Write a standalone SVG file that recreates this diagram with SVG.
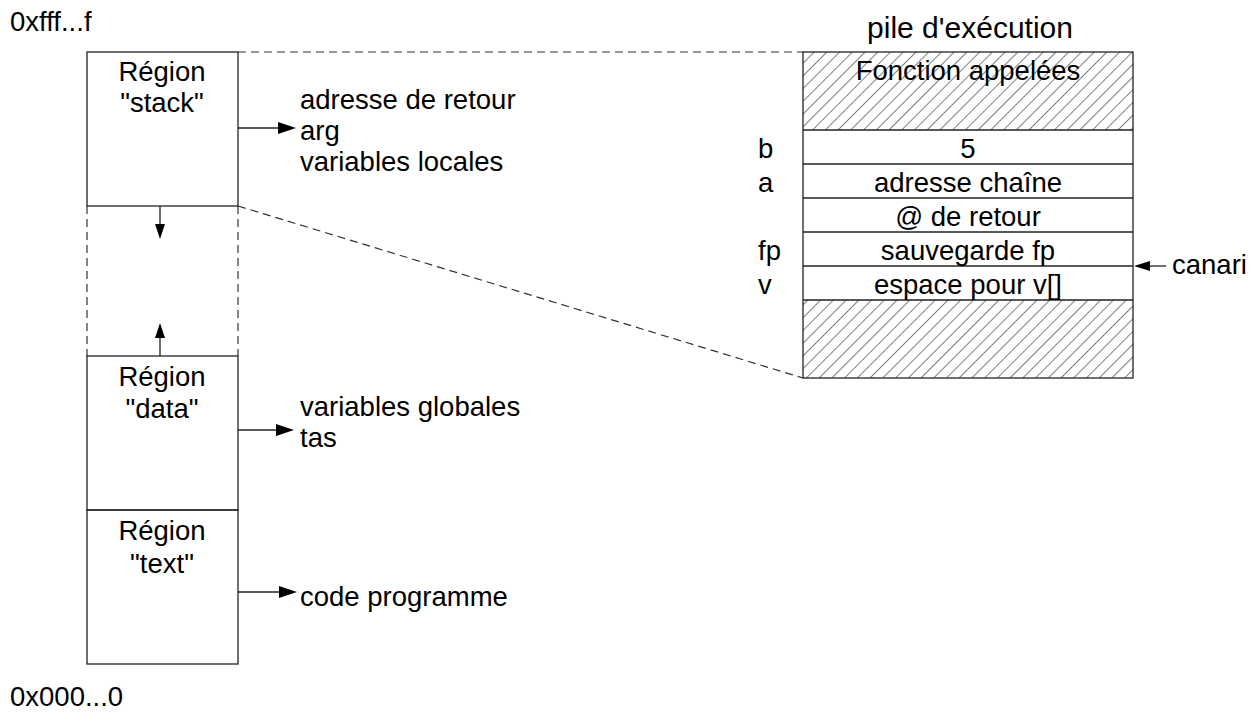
<svg xmlns="http://www.w3.org/2000/svg" width="1255" height="715" viewBox="0 0 1255 715">
  <style>
    text { font-family: "Liberation Sans", Arial, sans-serif; font-size: 27.5px; fill: #000; }
    .mid { text-anchor: middle; }
    .title { font-size: 30px; }
    .box { fill: none; stroke: #222; stroke-width: 1.3; }
    .dash { fill: none; stroke: #333; stroke-width: 1.2; stroke-dasharray: 8 5; }
    .conn { fill: none; stroke: #222; stroke-width: 1.3; }
    .head { fill: #000; }
  </style>
  <defs>
    <pattern id="hatch" patternUnits="userSpaceOnUse" width="9" height="9" patternTransform="rotate(45)">
      <line x1="0" y1="0" x2="0" y2="9" stroke="#000" stroke-width="1"/>
    </pattern>
  </defs>
  <rect width="1255" height="715" fill="#fff"/>

  <!-- address bounds -->
  <text x="10" y="31">0xfff...f</text>
  <text x="10" y="706">0x000...0</text>

  <!-- memory regions -->
  <g id="region-stack">
    <rect class="box" x="87" y="52" width="151" height="154"/>
    <text class="mid" x="162" y="81">Région</text>
    <text class="mid" x="162" y="112">"stack"</text>
  </g>
  <g id="region-gap">
    <line class="dash" x1="87" y1="206" x2="87" y2="356"/>
    <line class="dash" x1="238" y1="206" x2="238" y2="356"/>
  </g>
  <g id="region-data">
    <rect class="box" x="87" y="356" width="151" height="154"/>
    <text class="mid" x="162" y="386">Région</text>
    <text class="mid" x="162" y="418">"data"</text>
  </g>
  <g id="region-text">
    <rect class="box" x="87" y="510" width="151" height="154"/>
    <text class="mid" x="162" y="540">Région</text>
    <text class="mid" x="162" y="573">"text"</text>
  </g>

  <!-- region contents -->
  <g id="stack-contents">
    <text x="300" y="109">adresse de retour</text>
    <text x="300" y="140">arg</text>
    <text x="300" y="171">variables locales</text>
  </g>
  <g id="data-contents">
    <text x="300" y="416">variables globales</text>
    <text x="300" y="447">tas</text>
  </g>
  <g id="text-contents">
    <text x="300" y="606">code programme</text>
  </g>

  <!-- execution stack detail -->
  <g id="pile">
    <text class="mid title" x="970" y="38">pile d'exécution</text>
    <rect x="803" y="52" width="330" height="78" fill="url(#hatch)"/>
    <rect x="803" y="300" width="330" height="78" fill="url(#hatch)"/>
    <rect class="box" x="803" y="52" width="330" height="326"/>
    <line class="box" x1="803" y1="130" x2="1133" y2="130"/>
    <line class="box" x1="803" y1="164" x2="1133" y2="164"/>
    <line class="box" x1="803" y1="198" x2="1133" y2="198"/>
    <line class="box" x1="803" y1="232" x2="1133" y2="232"/>
    <line class="box" x1="803" y1="266" x2="1133" y2="266"/>
    <line class="box" x1="803" y1="300" x2="1133" y2="300"/>
    <text class="mid" x="968" y="80">Fonction appelées</text>
    <text class="mid" x="968" y="158">5</text>
    <text class="mid" x="968" y="192">adresse chaîne</text>
    <text class="mid" x="968" y="226">@ de retour</text>
    <text class="mid" x="968" y="260">sauvegarde fp</text>
    <text class="mid" x="968" y="294">espace pour v[]</text>
    <text x="758" y="158">b</text>
    <text x="758" y="192">a</text>
    <text x="758" y="260">fp</text>
    <text x="758" y="294">v</text>
    <text x="1172" y="274">canari</text>
  </g>

  <!-- connectors -->
  <g id="connectors">
    <line class="dash" x1="238" y1="52" x2="803" y2="52"/>
    <line class="dash" x1="238" y1="206" x2="803" y2="378"/>

    <line class="conn" x1="238" y1="128" x2="280" y2="128"/>
    <polygon class="head" points="296,128 278,122 278,134"/>

    <line class="conn" x1="238" y1="430" x2="278" y2="430"/>
    <polygon class="head" points="294,430 276,424 276,436"/>

    <line class="conn" x1="238" y1="592" x2="281" y2="592"/>
    <polygon class="head" points="297,592 279,586 279,598"/>

    <line class="conn" x1="160" y1="206" x2="160" y2="226"/>
    <polygon class="head" points="160,239 155,224 165,224"/>

    <line class="conn" x1="160" y1="356" x2="160" y2="336"/>
    <polygon class="head" points="160,323 155,338 165,338"/>

    <line class="conn" x1="1166" y1="266" x2="1148" y2="266"/>
    <polygon class="head" points="1134,266 1150,261 1150,271"/>
  </g>
</svg>
